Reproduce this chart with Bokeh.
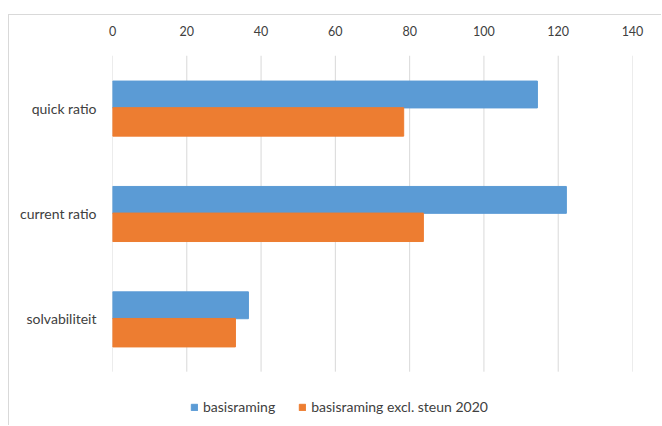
from bokeh.plotting import figure
from bokeh.models import (ColumnDataSource, Range1d, LinearAxis,
                          FixedTicker, Legend, LegendItem)
from bokeh.transform import dodge
from bokeh.embed import file_html
from bokeh.resources import INLINE

# Ratios per scenario (top to bottom)
categories = ["quick ratio", "current ratio", "solvabiliteit"]
basisraming = [114.4, 122.2, 36.6]
excl_steun_2020 = [78.4, 83.7, 33.1]
x_ticks = [0, 20, 40, 60, 80, 100, 120, 140]

BLUE = "#5B9BD5"
ORANGE = "#ED7D31"
GRID = "#D9D9D9"
TEXT = "#404040"
FONT = "Lato"
FS = "14px"
TICK_FS = "12.5px"

n = len(categories)
ypos = [n - 1 - i for i in range(n)]  # first category on top
source = ColumnDataSource(dict(y=ypos, cat=categories, base=basisraming, excl=excl_steun_2020))

p = figure(
    width=653, height=411,
    y_range=Range1d(-1.02, n - 0.5),
    x_range=Range1d(0, 140),
    x_axis_location=None,
    output_backend="svg", toolbar_location=None,
    min_border_left=103, min_border_right=30,
    min_border_top=40, min_border_bottom=0,
)
# chart area border (left and top edges visible in the window)
p.margin = (14, 0, 0, 8)
p.styles = {"border-left": "1px solid #D9D9D9", "border-top": "1px solid #D9D9D9"}

p.outline_line_color = None
p.background_fill_color = "white"
p.border_fill_color = "white"

# vertical gridlines over the category area only
p.xgrid.visible = False
p.ygrid.visible = False
grid_src = ColumnDataSource(dict(x=x_ticks, y0=[-0.5] * len(x_ticks), y1=[n - 0.5] * len(x_ticks)))
p.segment(x0="x", x1="x", y0="y0", y1="y1", source=grid_src, line_color=GRID, line_width=1)

b1 = p.hbar(y=dodge("y", 0.13), right="base", left=0,
            height=0.255, source=source, color=BLUE)
b2 = p.hbar(y=dodge("y", -0.13), right="excl", left=0,
            height=0.27, source=source, color=ORANGE)

# value axis along the top
top_axis = LinearAxis(ticker=FixedTicker(ticks=x_ticks))
top_axis.axis_line_color = None
top_axis.major_tick_line_color = None
top_axis.minor_tick_line_color = None
top_axis.major_label_standoff = 14
top_axis.major_label_text_font = FONT
top_axis.major_label_text_font_size = TICK_FS
top_axis.major_label_text_color = TEXT
p.add_layout(top_axis, "above")

yax = p.yaxis[0]
yax.ticker = FixedTicker(ticks=ypos)
yax.major_label_overrides = {y: c for y, c in zip(ypos, categories)}
yax.axis_line_color = None
yax.major_tick_line_color = None
yax.minor_tick_line_color = None
yax.major_label_standoff = 10
yax.major_label_text_font = FONT
yax.major_label_text_font_size = FS
yax.major_label_text_color = TEXT

legend = Legend(items=[LegendItem(label="basisraming", renderers=[b1]),
                       LegendItem(label="basisraming excl. steun 2020", renderers=[b2])],
                orientation="horizontal", location=(78, 11))
legend.border_line_color = None
legend.background_fill_alpha = 0
legend.label_text_font = FONT
legend.label_text_font_size = FS
legend.label_text_color = TEXT
legend.glyph_width = 8
legend.glyph_height = 8
legend.label_standoff = 5
legend.spacing = 23
legend.margin = 0
legend.padding = 0
legend.label_height = 14
p.add_layout(legend)

open("out.html", "w").write(file_html(p, INLINE))
